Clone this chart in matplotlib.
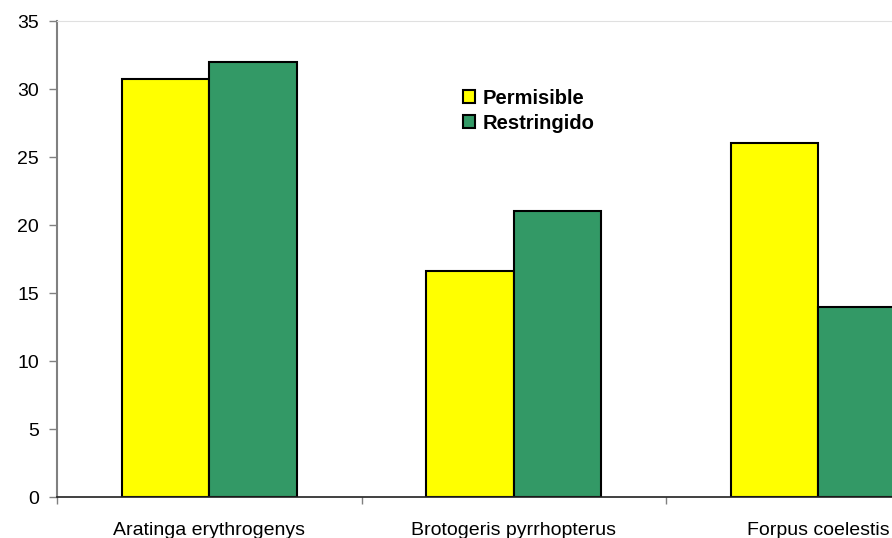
import numpy as np
import matplotlib.pyplot as plt

plt.rcParams['font.family'] = ['Liberation Sans', 'DejaVu Sans']

species = ['Aratinga erythrogenys', 'Brotogeris pyrrhopterus', 'Forpus coelestis']
permisible = [30.7, 16.6, 26.0]
restringido = [32.0, 21.0, 14.0]

fig = plt.figure(figsize=(8.92, 5.38), dpi=100)
# plot area runs past the right edge, as in the (cropped) original
ax = fig.add_axes([57 / 892, 41 / 538, 913.5 / 892, 476 / 538])

x = np.arange(len(species))
w = 0.2875
ax.bar(x - w / 2, permisible, w, color='#ffff00', edgecolor='black', linewidth=1.5,
       label='Permisible')
ax.bar(x + w / 2, restringido, w, color='#339966', edgecolor='black', linewidth=1.5,
       label='Restringido')

ax.set_xlim(-0.5, 2.5)
ax.set_ylim(0, 35)
ax.set_yticks(range(0, 36, 5))
ax.set_xticks(x)
ax.set_xticklabels(species)
ax.set_xticks(np.arange(-0.5, 3, 1), minor=True)
ax.tick_params(axis='x', which='major', length=0, pad=18, labelsize=14)
ax.tick_params(axis='x', which='minor', length=5, width=1, color='#808080', direction='out')
ax.tick_params(axis='y', length=6, width=1, color='#808080', labelsize=14, pad=7)

ax.spines['left'].set_color('#808080')
ax.spines['left'].set_linewidth(1.5)
ax.spines['bottom'].set_color('#202020')
ax.spines['bottom'].set_linewidth(1.2)
ax.spines['top'].set_color('#e0e0e0')
ax.spines['top'].set_linewidth(0.8)
ax.spines['right'].set_visible(False)

leg = ax.legend(loc='upper left', bbox_to_anchor=(398 / 913.5, 0.875), frameon=False,
                prop={'weight': 'bold', 'size': 14.5}, handlelength=0.6, handleheight=0.6,
                handletextpad=0.35, labelspacing=0.3, borderaxespad=0)

fig.savefig('out.png', dpi=100)
